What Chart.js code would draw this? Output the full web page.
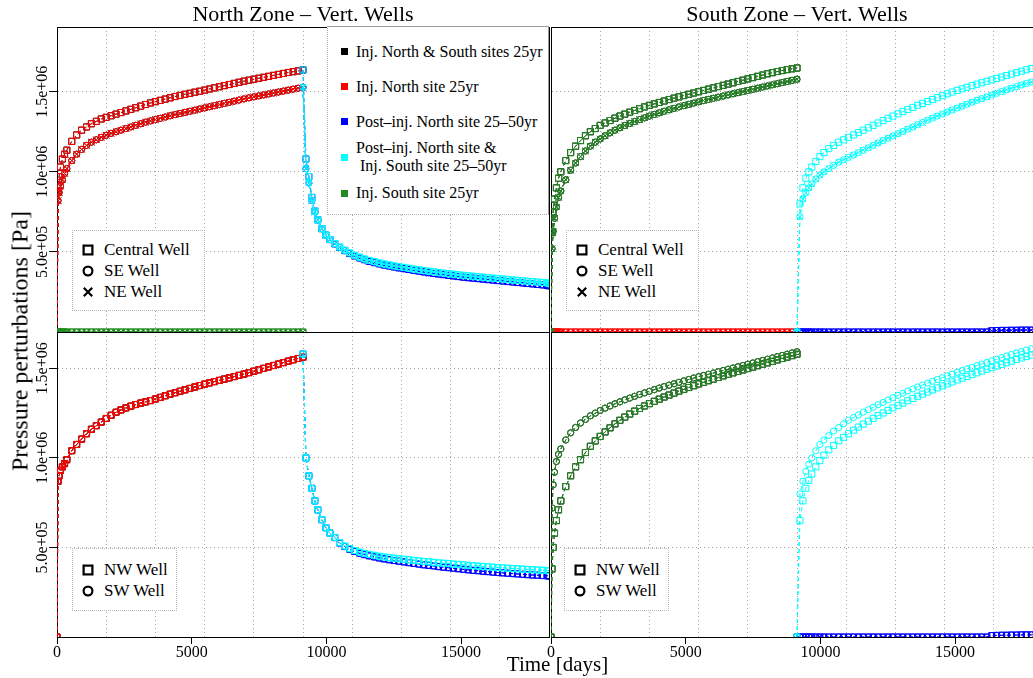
<!DOCTYPE html>
<html><head><meta charset="utf-8">
<script src="https://cdn.jsdelivr.net/npm/chart.js@4.4.1/dist/chart.umd.min.js"></script>
<style>
html,body{margin:0;padding:0;background:#fff;overflow:hidden;width:1033px;height:678px;}
#wrap{position:relative;width:1033px;height:678px;overflow:hidden;background:#fff;}
canvas{position:absolute;left:0;top:0;}
.txt{position:absolute;font-family:'Liberation Serif','Times New Roman',serif;color:#000;white-space:nowrap;z-index:6;}
.box{position:absolute;background:#fff;box-sizing:border-box;font-family:'Liberation Serif','Times New Roman',serif;color:#000;z-index:5;}
.lrow{position:absolute;left:13px;display:flex;align-items:center;}
.lmk{width:7px;height:7px;margin-right:8px;flex:none;}
.ltx{font-size:16px;line-height:18.4px;white-space:pre;}
.wrow{position:absolute;left:9px;display:flex;align-items:center;height:20px;}
.wrow svg{flex:none;margin-right:10px;}
.wtx{font-size:17px;line-height:20px;white-space:pre;}
</style></head>
<body>
<div id="wrap">
  <canvas id="cTL" width="1050" height="678"></canvas>
  <canvas id="cBL" width="1050" height="678"></canvas>
  <canvas id="cTR" width="1050" height="678"></canvas>
  <canvas id="cBR" width="1050" height="678"></canvas>
</div>
<script>
// ---------------- DATA (pressure values in units of 1e6 Pa) ----------------
const tInj = [0, 40, 80, 130, 200, 280, 365, 548, 730, 913, 1096, 1278, 1461, 1644, 1826, 2009, 2192, 2374, 2557, 2739, 2922, 3105, 3287, 3470, 3653, 3835, 4018, 4200, 4383, 4566, 4748, 4931, 5114, 5296, 5479, 5661, 5844, 6027, 6209, 6392, 6575, 6757, 6940, 7122, 7305, 7488, 7670, 7853, 8036, 8218, 8401, 8583, 8766, 8949, 9131];
const tPost = [9131, 9240, 9350, 9460, 9570, 9680, 9830, 9980, 10130, 10310, 10490, 10680, 10860, 11040, 11230, 11410, 11590, 11780, 11960, 12140, 12330, 12510, 12690, 12880, 13060, 13240, 13430, 13610, 13790, 13980, 14160, 14340, 14530, 14710, 14890, 15080, 15260, 15440, 15630, 15810, 15990, 16180, 16360, 16540, 16730, 16910, 17090, 17280, 17460, 17640, 17830, 18010, 18190, 18262];

const zeroInj = [0,0,0,0,0,0,0, 0,0,0,0,0,0,0,0, 0,0,0,0,0,0,0,0, 0,0,0,0,0,0,0,0, 0,0,0,0,0,0,0,0, 0,0,0,0,0,0,0,0, 0,0,0,0,0,0,0,0];

// North zone, Central / SE-NE wells
const nTopInjC = [0, 0.88, 0.97, 1.03, 1.08, 1.11, 1.135, 1.19, 1.23, 1.26, 1.28, 1.30, 1.315, 1.33, 1.34, 1.35, 1.36, 1.37, 1.38, 1.39, 1.40, 1.41, 1.42, 1.43, 1.438, 1.446, 1.454, 1.462, 1.47, 1.477, 1.484, 1.49, 1.497, 1.503, 1.51, 1.517, 1.524, 1.531, 1.538, 1.545, 1.552, 1.559, 1.566, 1.572, 1.578, 1.584, 1.59, 1.596, 1.602, 1.608, 1.614, 1.62, 1.625, 1.63, 1.636];
const nTopInjS = [0, 0.82, 0.87, 0.91, 0.95, 0.99, 1.02, 1.07, 1.11, 1.14, 1.165, 1.185, 1.20, 1.215, 1.228, 1.24, 1.25, 1.26, 1.27, 1.28, 1.29, 1.30, 1.31, 1.318, 1.326, 1.334, 1.342, 1.35, 1.357, 1.364, 1.371, 1.378, 1.385, 1.392, 1.399, 1.406, 1.413, 1.42, 1.427, 1.434, 1.441, 1.448, 1.455, 1.462, 1.468, 1.474, 1.48, 1.486, 1.492, 1.498, 1.504, 1.51, 1.516, 1.522, 1.528];
const nTopPostC = [1.636, 1.08, 0.97, 0.84, 0.755, 0.70, 0.645, 0.605, 0.577, 0.55, 0.528, 0.508, 0.49, 0.475, 0.462, 0.451, 0.441, 0.433, 0.425, 0.418, 0.412, 0.406, 0.40, 0.395, 0.39, 0.385, 0.38, 0.375, 0.37, 0.366, 0.362, 0.358, 0.354, 0.35, 0.346, 0.342, 0.339, 0.336, 0.333, 0.33, 0.327, 0.324, 0.321, 0.318, 0.315, 0.312, 0.309, 0.306, 0.303, 0.30, 0.297, 0.294, 0.291, 0.288];
const nTopPostS = [1.528, 1.02, 0.93, 0.82, 0.75, 0.70, 0.645, 0.605, 0.577, 0.55, 0.528, 0.508, 0.49, 0.475, 0.462, 0.451, 0.441, 0.433, 0.425, 0.418, 0.412, 0.406, 0.40, 0.395, 0.39, 0.385, 0.38, 0.375, 0.37, 0.366, 0.362, 0.358, 0.354, 0.35, 0.346, 0.342, 0.339, 0.336, 0.333, 0.33, 0.327, 0.324, 0.321, 0.318, 0.315, 0.312, 0.309, 0.306, 0.303, 0.30, 0.297, 0.294, 0.291, 0.288];
const nTopPostCyC = [1.636, 1.08, 0.97, 0.84, 0.755, 0.70, 0.645, 0.605, 0.578, 0.552, 0.53, 0.511, 0.494, 0.479, 0.467, 0.456, 0.447, 0.439, 0.431, 0.425, 0.419, 0.413, 0.408, 0.403, 0.398, 0.393, 0.389, 0.384, 0.38, 0.376, 0.372, 0.368, 0.364, 0.361, 0.357, 0.354, 0.351, 0.348, 0.345, 0.342, 0.339, 0.336, 0.334, 0.331, 0.328, 0.325, 0.323, 0.32, 0.317, 0.315, 0.312, 0.309, 0.307, 0.304];
const nTopPostCyS = [1.528, 1.02, 0.93, 0.82, 0.75, 0.70, 0.645, 0.605, 0.578, 0.552, 0.53, 0.511, 0.494, 0.479, 0.467, 0.456, 0.447, 0.439, 0.431, 0.425, 0.419, 0.413, 0.408, 0.403, 0.398, 0.393, 0.389, 0.384, 0.38, 0.376, 0.372, 0.368, 0.364, 0.361, 0.357, 0.354, 0.351, 0.348, 0.345, 0.342, 0.339, 0.336, 0.334, 0.331, 0.328, 0.325, 0.323, 0.32, 0.317, 0.315, 0.312, 0.309, 0.307, 0.304];

// North zone, NW / SW wells
const nBotInj = [0, 0.87, 0.9, 0.93, 0.95, 0.968, 0.99, 1.04, 1.075, 1.105, 1.135, 1.16, 1.18, 1.20, 1.22, 1.238, 1.255, 1.268, 1.279, 1.289, 1.298, 1.306, 1.313, 1.32, 1.329, 1.338, 1.347, 1.356, 1.364, 1.372, 1.38, 1.388, 1.396, 1.404, 1.412, 1.419, 1.426, 1.433, 1.44, 1.447, 1.454, 1.461, 1.468, 1.476, 1.484, 1.492, 1.50, 1.508, 1.516, 1.524, 1.532, 1.54, 1.548, 1.555, 1.562];
const nBotPost = [1.58, 1.0, 0.90, 0.83, 0.76, 0.71, 0.655, 0.61, 0.58, 0.555, 0.525, 0.505, 0.49, 0.478, 0.468, 0.46, 0.453, 0.447, 0.441, 0.436, 0.431, 0.427, 0.423, 0.419, 0.415, 0.411, 0.407, 0.403, 0.40, 0.397, 0.393, 0.39, 0.387, 0.384, 0.381, 0.378, 0.375, 0.372, 0.37, 0.367, 0.365, 0.362, 0.36, 0.358, 0.356, 0.354, 0.352, 0.35, 0.348, 0.346, 0.345, 0.343, 0.342, 0.34];
const nBotPostCy = [1.58, 1.0, 0.90, 0.83, 0.76, 0.71, 0.655, 0.61, 0.58, 0.556, 0.527, 0.508, 0.494, 0.483, 0.474, 0.467, 0.461, 0.456, 0.451, 0.447, 0.443, 0.44, 0.437, 0.434, 0.431, 0.428, 0.425, 0.422, 0.42, 0.417, 0.414, 0.412, 0.41, 0.407, 0.405, 0.403, 0.4, 0.398, 0.396, 0.394, 0.392, 0.39, 0.388, 0.386, 0.384, 0.382, 0.381, 0.379, 0.377, 0.376, 0.374, 0.373, 0.371, 0.37];

// South zone, Central / SE-NE wells
const sTopInjC = [0, 0.62, 0.75, 0.83, 0.9, 0.96, 1.0, 1.07, 1.12, 1.16, 1.195, 1.225, 1.25, 1.27, 1.29, 1.305, 1.32, 1.335, 1.348, 1.36, 1.372, 1.383, 1.394, 1.405, 1.415, 1.424, 1.433, 1.442, 1.451, 1.46, 1.468, 1.476, 1.484, 1.492, 1.50, 1.508, 1.516, 1.524, 1.532, 1.54, 1.548, 1.556, 1.564, 1.572, 1.58, 1.588, 1.596, 1.604, 1.612, 1.619, 1.626, 1.632, 1.638, 1.643, 1.648];
const sTopInjS = [0, 0.52, 0.63, 0.71, 0.78, 0.84, 0.88, 0.95, 1.01, 1.055, 1.095, 1.13, 1.16, 1.185, 1.205, 1.225, 1.243, 1.26, 1.275, 1.289, 1.302, 1.314, 1.326, 1.337, 1.348, 1.358, 1.368, 1.378, 1.387, 1.396, 1.405, 1.413, 1.421, 1.429, 1.437, 1.445, 1.452, 1.459, 1.466, 1.473, 1.48, 1.487, 1.494, 1.501, 1.508, 1.515, 1.522, 1.529, 1.536, 1.543, 1.55, 1.557, 1.564, 1.571, 1.578];
const sTopPostCyC = [0, 0.80, 0.90, 0.96, 1.00, 1.03, 1.065, 1.095, 1.12, 1.145, 1.165, 1.185, 1.20, 1.215, 1.23, 1.245, 1.26, 1.275, 1.29, 1.305, 1.32, 1.334, 1.348, 1.362, 1.376, 1.389, 1.402, 1.415, 1.427, 1.439, 1.451, 1.463, 1.475, 1.487, 1.498, 1.508, 1.518, 1.528, 1.538, 1.547, 1.556, 1.565, 1.574, 1.583, 1.592, 1.601, 1.61, 1.619, 1.628, 1.637, 1.645, 1.653, 1.66, 1.667];
const sTopPostCyS = [0, 0.72, 0.83, 0.87, 0.90, 0.925, 0.955, 0.98, 1.0, 1.02, 1.04, 1.06, 1.075, 1.09, 1.105, 1.12, 1.135, 1.15, 1.165, 1.18, 1.195, 1.21, 1.224, 1.238, 1.252, 1.266, 1.28, 1.294, 1.308, 1.322, 1.335, 1.348, 1.361, 1.374, 1.386, 1.398, 1.41, 1.422, 1.434, 1.446, 1.457, 1.468, 1.479, 1.49, 1.501, 1.512, 1.522, 1.532, 1.542, 1.551, 1.56, 1.568, 1.576, 1.583];
const sPostBlue = [0,0,0,0,0,0,0, 0,0,0,0,0,0,0, 0,0,0,0,0,0,0, 0,0,0,0,0,0,0, 0,0,0,0,0,0,0, 0,0,0,0,0,0,0, 0.008, 0.009, 0.01, 0.01, 0.011, 0.011, 0.012, 0.012, 0.012, 0.013, 0.013, 0.013];

// South zone, NW / SW wells
const sBotInjNW = [0, 0.38, 0.5, 0.58, 0.65, 0.71, 0.76, 0.84, 0.9, 0.95, 0.99, 1.03, 1.065, 1.095, 1.12, 1.145, 1.168, 1.19, 1.21, 1.228, 1.245, 1.261, 1.276, 1.29, 1.303, 1.316, 1.328, 1.34, 1.351, 1.362, 1.373, 1.383, 1.393, 1.403, 1.413, 1.422, 1.431, 1.44, 1.449, 1.458, 1.467, 1.475, 1.483, 1.491, 1.499, 1.507, 1.515, 1.523, 1.531, 1.539, 1.547, 1.555, 1.563, 1.571, 1.579];
const sBotInjSW = [0, 0.72, 0.85, 0.92, 0.98, 1.02, 1.05, 1.1, 1.14, 1.17, 1.195, 1.215, 1.235, 1.25, 1.265, 1.278, 1.29, 1.302, 1.313, 1.324, 1.334, 1.344, 1.354, 1.363, 1.372, 1.381, 1.39, 1.398, 1.406, 1.414, 1.422, 1.43, 1.438, 1.446, 1.453, 1.46, 1.467, 1.474, 1.481, 1.488, 1.495, 1.502, 1.509, 1.516, 1.523, 1.53, 1.537, 1.544, 1.551, 1.558, 1.565, 1.572, 1.579, 1.586, 1.593];
const sBotPostCyNW = [0, 0.65, 0.76, 0.83, 0.875, 0.91, 0.95, 0.985, 1.015, 1.045, 1.07, 1.095, 1.115, 1.135, 1.155, 1.172, 1.189, 1.205, 1.221, 1.236, 1.251, 1.265, 1.279, 1.293, 1.306, 1.319, 1.332, 1.344, 1.356, 1.368, 1.38, 1.391, 1.402, 1.413, 1.424, 1.435, 1.445, 1.455, 1.465, 1.475, 1.485, 1.495, 1.504, 1.513, 1.522, 1.531, 1.54, 1.549, 1.558, 1.566, 1.574, 1.582, 1.59, 1.597];
const sBotPostCySW = [0, 0.80, 0.87, 0.925, 0.965, 1.0, 1.04, 1.075, 1.10, 1.125, 1.15, 1.17, 1.19, 1.21, 1.225, 1.24, 1.255, 1.269, 1.283, 1.297, 1.31, 1.323, 1.336, 1.349, 1.361, 1.373, 1.385, 1.396, 1.407, 1.418, 1.428, 1.438, 1.448, 1.458, 1.468, 1.478, 1.488, 1.497, 1.506, 1.515, 1.524, 1.533, 1.542, 1.551, 1.56, 1.569, 1.578, 1.586, 1.594, 1.602, 1.61, 1.617, 1.624, 1.63];

// Axis ticks
const xTickLabels = [0, 5000, 10000, 15000];
const xGridDays = [1826.25, 3652.5, 5478.75, 7305, 9131.25, 10957.5, 12783.75, 14610, 16436.25];
const yTickValues = [500000, 1000000, 1500000];

const scenarioNames = ['Inj. North & South sites 25yr', 'Inj. North site 25yr', 'Post\u2013inj. North site 25\u201350yr', 'Post\u2013inj. North site &\n Inj. South site 25\u201350yr', 'Inj. South site 25yr'];
const topWellNames = ['Central Well', 'SE Well', 'NE Well'];
const botWellNames = ['NW Well', 'SW Well'];
const panelTitles = ['North Zone \u2013 Vert. Wells', 'South Zone \u2013 Vert. Wells'];

// ---------------- STYLE ----------------
const FONT = "'Liberation Serif','Times New Roman',serif";
const GRID = '#a3a3a3';
const TRANSP = 'rgba(0,0,0,0)';
const SCEN_COLORS = ['#000000', '#ff0000', '#0000ff', '#00ffff', '#228b22'];
const WELL_STYLE = {
  'Central Well': {ps: 'rect', r: 4.3, sym: 'sq'}, 'SE Well': {ps: 'circle', r: 3.1, sym: 'ci'}, 'NE Well': {ps: 'crossRot', r: 4.3, sym: 'x'},
  'NW Well': {ps: 'rect', r: 4.3, sym: 'sq'}, 'SW Well': {ps: 'circle', r: 3.1, sym: 'ci'}
};
const X_MAX = 18262.5;
const CW = 1050, CH = 678;
const COLS = [{l: 57, r: 549}, {l: 551, r: 1043}];
const ROWS = [{t: 27, b: 332, ymax: 1.904e6}, {t: 332, b: 637, ymax: 1.703e6}];

Chart.defaults.font.family = FONT;

function fmtE(v) { return v.toExponential(1).replace(/e([+-])(\d)$/, 'e$10$2'); }

const PANELS = [
  {id: 'cTL', col: 0, row: 0, wells: topWellNames, series: [
    {time: tInj,  vals: [nTopInjC, nTopInjS, nTopInjS]},
    {time: tInj,  vals: [nTopInjC, nTopInjS, nTopInjS]},
    {time: tPost, vals: [nTopPostC, nTopPostS, nTopPostS]},
    {time: tPost, vals: [nTopPostCyC, nTopPostCyS, nTopPostCyS]},
    {time: tInj,  vals: [zeroInj, zeroInj, zeroInj]}]},
  {id: 'cTR', col: 1, row: 0, wells: topWellNames, series: [
    {time: tInj,  vals: [sTopInjC, sTopInjS, sTopInjS]},
    {time: tInj,  vals: [zeroInj, zeroInj, zeroInj]},
    {time: tPost, vals: [sPostBlue, sPostBlue, sPostBlue]},
    {time: tPost, vals: [sTopPostCyC, sTopPostCyS, sTopPostCyS]},
    {time: tInj,  vals: [sTopInjC, sTopInjS, sTopInjS]}]},
  {id: 'cBL', col: 0, row: 1, wells: botWellNames, series: [
    {time: tInj,  vals: [nBotInj, nBotInj]},
    {time: tInj,  vals: [nBotInj, nBotInj]},
    {time: tPost, vals: [nBotPost, nBotPost]},
    {time: tPost, vals: [nBotPostCy, nBotPostCy]},
    null]},
  {id: 'cBR', col: 1, row: 1, wells: botWellNames, series: [
    {time: tInj,  vals: [sBotInjNW, sBotInjSW]},
    null,
    {time: tPost, vals: [sPostBlue, sPostBlue]},
    {time: tPost, vals: [sBotPostCyNW, sBotPostCySW]},
    {time: tInj,  vals: [sBotInjNW, sBotInjSW]}]}
];

function buildDatasets(p) {
  const ds = [];
  p.series.forEach((sc, s) => {
    if (!sc) return;
    sc.vals.forEach((vals, w) => {
      const ws = WELL_STYLE[p.wells[w]];
      ds.push({
        label: scenarioNames[s] + ' / ' + p.wells[w],
        data: sc.time.map((t, i) => ({x: t, y: vals[i] * 1e6})),
        xAxisID: 'x', yAxisID: 'y',
        borderColor: SCEN_COLORS[s], borderWidth: 1, borderDash: [4, 3],
        pointStyle: ws.ps, pointRadius: ws.r, pointBorderWidth: 1,
        pointBorderColor: SCEN_COLORS[s], pointBackgroundColor: TRANSP,
        fill: false, tension: 0, order: (4 - s) * 10 + (3 - w)
      });
    });
  });
  return ds;
}

function makeChart(p) {
  const col = COLS[p.col], row = ROWS[p.row];
  const isLeft = p.col === 0, isBottom = p.row === 1, isTop = p.row === 0;
  const cfg = {
    type: 'line',
    data: {datasets: buildDatasets(p)},
    options: {
      responsive: false, animation: false, events: [],
      layout: {autoPadding: false, padding: {
        left: isLeft ? 0 : col.l, right: CW - col.r,
        top: isTop ? 0 : row.t, bottom: isBottom ? 0 : CH - row.b}},
      plugins: {legend: {display: false}, tooltip: {enabled: false}, title: {display: false}},
      scales: {
        x: {
          type: 'linear', position: 'bottom', min: 0, max: X_MAX,
          afterBuildTicks: s => { s.ticks = xTickLabels.concat(xGridDays).sort((a, b) => a - b).map(v => ({value: v})); },
          afterFit: s => { s.height = isBottom ? CH - row.b : 0; },
          ticks: {display: isBottom, autoSkip: false, maxRotation: 0, minRotation: 0, padding: -1, color: '#000',
            font: {family: FONT, size: 16}, callback: v => xTickLabels.includes(v) ? String(v) : ''},
          grid: {color: c => (c.tick && xGridDays.includes(c.tick.value)) ? GRID : TRANSP, lineWidth: 1,
            drawTicks: isBottom, tickLength: 7, tickWidth: 1,
            tickColor: c => (c.tick && xTickLabels.includes(c.tick.value)) ? '#000' : TRANSP},
          border: {display: true, color: '#000', width: 1, dash: [1, 3]}
        },
        xTop: {
          type: 'linear', position: 'top', min: 0, max: X_MAX,
          afterFit: s => { s.height = isTop ? row.t : 0; },
          title: {display: isTop, text: panelTitles[p.col], color: '#000', font: {family: FONT, size: 22}, padding: {top: 2, bottom: 0}},
          ticks: {display: false}, grid: {display: false, drawOnChartArea: false},
          border: {display: true, color: '#000', width: 1}
        },
        y: {
          type: 'linear', position: 'left', min: 0, max: row.ymax,
          afterBuildTicks: s => { s.ticks = yTickValues.map(v => ({value: v})); },
          afterFit: s => { s.width = isLeft ? col.l : 0; },
          ticks: {display: isLeft, autoSkip: false, minRotation: 90, maxRotation: 90, crossAlign: 'center', padding: -20,
            color: '#000', font: {family: FONT, size: 16}, callback: v => fmtE(v)},
          grid: {color: GRID, lineWidth: 1, drawTicks: isLeft, tickLength: 8, tickWidth: 1, tickColor: '#000'},
          border: {display: true, color: '#000', width: 1, dash: [1, 3]}
        },
        yRight: {
          type: 'linear', position: 'right', min: 0, max: row.ymax,
          afterFit: s => { s.width = 0; },
          ticks: {display: false}, grid: {display: false, drawOnChartArea: false},
          border: {display: true, color: '#000', width: 1}
        }
      }
    }
  };
  return new Chart(document.getElementById(p.id), cfg);
}
PANELS.forEach(makeChart);

// ---------------- TEXT / LEGENDS (HTML) ----------------
const wrap = document.getElementById('wrap');
function addText(txt, css) {
  const d = document.createElement('div'); d.className = 'txt'; d.textContent = txt;
  Object.assign(d.style, css); wrap.appendChild(d); return d;
}
addText('Pressure perturbations [Pa]', {left: '20px', top: '341px', fontSize: '24px', transform: 'translate(-50%,-50%) rotate(-90deg)'});
addText('Time [days]', {left: '557.5px', top: '664px', fontSize: '21px', transform: 'translate(-50%,-50%)'});

// main scenario legend
const main = document.createElement('div');
main.className = 'box';
Object.assign(main.style, {left: '327px', top: '26px', width: '222px', height: '189px',
  borderTop: '1px solid #9a9a9a', borderRight: '1px solid #9a9a9a', borderLeft: '1px dotted #b0b0b0', borderBottom: '1px dotted #b0b0b0'});
const MAIN_ROW_TOP = [15.5, 50.5, 85.5, 111.6, 157.1];
scenarioNames.forEach((name, i) => {
  const r = document.createElement('div'); r.className = 'lrow'; r.style.top = MAIN_ROW_TOP[i] + 'px';
  const m = document.createElement('span'); m.className = 'lmk'; m.style.background = SCEN_COLORS[i];
  const t = document.createElement('span'); t.className = 'ltx'; t.textContent = name;
  r.appendChild(m); r.appendChild(t); main.appendChild(r);
});
wrap.appendChild(main);

function symSVG(kind) {
  const s = '<svg width="12" height="12" viewBox="0 0 12 12">';
  if (kind === 'sq') return s + '<rect x="1.6" y="1.6" width="8.8" height="8.8" fill="none" stroke="#000" stroke-width="2.2"/></svg>';
  if (kind === 'ci') return s + '<circle cx="6" cy="6" r="4.4" fill="none" stroke="#000" stroke-width="2.2"/></svg>';
  return s + '<path d="M1.8 1.8 L10.2 10.2 M10.2 1.8 L1.8 10.2" stroke="#000" stroke-width="2.2"/></svg>';
}
function wellLegend(names, box) {
  const b = document.createElement('div'); b.className = 'box';
  Object.assign(b.style, {left: box.l + 'px', top: box.t + 'px', width: box.w + 'px', height: box.h + 'px', border: '1px dotted #b5b5b5'});
  names.forEach((n, i) => {
    const r = document.createElement('div'); r.className = 'wrow'; r.style.top = (box.r0 + i * 21 - 10) + 'px';
    r.innerHTML = symSVG(WELL_STYLE[n].sym);
    const t = document.createElement('span'); t.className = 'wtx'; t.textContent = n; r.appendChild(t);
    b.appendChild(r);
  });
  wrap.appendChild(b);
}
wellLegend(topWellNames, {l: 72, t: 230, w: 133, h: 81, r0: 19});
wellLegend(topWellNames, {l: 566, t: 230, w: 133, h: 81, r0: 19});
wellLegend(botWellNames, {l: 72, t: 548, w: 105, h: 63, r0: 21});
wellLegend(botWellNames, {l: 564, t: 548, w: 105, h: 63, r0: 21});
</script>
</body></html>
